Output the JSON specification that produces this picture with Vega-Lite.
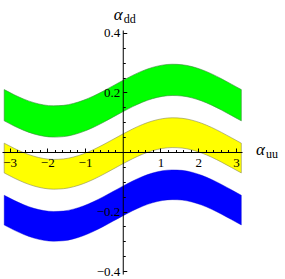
{
  "$schema": "https://vega.github.io/schema/vega-lite/v6.json",
  "width": 240,
  "height": 244,
  "autosize": {"type": "none"},
  "padding": {"left": 2, "top": 30, "right": 43, "bottom": 5},
  "background": "white",
  "config": {"view": {"stroke": null}},
  "datasets": {
    "bands": [
      {"x": -3.1416, "g_hi": 0.2097, "g_lo": 0.1047, "y_hi": 0.0297, "y_lo": -0.0703, "b_hi": -0.1453, "b_lo": -0.2453},
      {"x": -2.8798, "g_hi": 0.1925, "g_lo": 0.0875, "y_hi": 0.0125, "y_lo": -0.0875, "b_hi": -0.1625, "b_lo": -0.2625},
      {"x": -2.618, "g_hi": 0.1775, "g_lo": 0.0725, "y_hi": -0.0025, "y_lo": -0.1025, "b_hi": -0.1775, "b_lo": -0.2775},
      {"x": -2.3562, "g_hi": 0.1658, "g_lo": 0.0608, "y_hi": -0.0142, "y_lo": -0.1142, "b_hi": -0.1892, "b_lo": -0.2892},
      {"x": -2.0944, "g_hi": 0.1581, "g_lo": 0.0531, "y_hi": -0.0219, "y_lo": -0.1219, "b_hi": -0.1969, "b_lo": -0.2969},
      {"x": -1.8326, "g_hi": 0.1551, "g_lo": 0.0501, "y_hi": -0.0249, "y_lo": -0.1249, "b_hi": -0.1999, "b_lo": -0.2999},
      {"x": -1.5708, "g_hi": 0.1567, "g_lo": 0.0517, "y_hi": -0.0233, "y_lo": -0.1233, "b_hi": -0.1983, "b_lo": -0.2983},
      {"x": -1.309, "g_hi": 0.163, "g_lo": 0.058, "y_hi": -0.017, "y_lo": -0.117, "b_hi": -0.192, "b_lo": -0.292},
      {"x": -1.0472, "g_hi": 0.1735, "g_lo": 0.0685, "y_hi": -0.0065, "y_lo": -0.1065, "b_hi": -0.1815, "b_lo": -0.2815},
      {"x": -0.7854, "g_hi": 0.1875, "g_lo": 0.0825, "y_hi": 0.0075, "y_lo": -0.0925, "b_hi": -0.1675, "b_lo": -0.2675},
      {"x": -0.5236, "g_hi": 0.2041, "g_lo": 0.0991, "y_hi": 0.0241, "y_lo": -0.0759, "b_hi": -0.1509, "b_lo": -0.2509},
      {"x": -0.2618, "g_hi": 0.2221, "g_lo": 0.1171, "y_hi": 0.0421, "y_lo": -0.0579, "b_hi": -0.1329, "b_lo": -0.2329},
      {"x": 0, "g_hi": 0.2403, "g_lo": 0.1353, "y_hi": 0.0603, "y_lo": -0.0397, "b_hi": -0.1147, "b_lo": -0.2147},
      {"x": 0.2618, "g_hi": 0.2575, "g_lo": 0.1525, "y_hi": 0.0775, "y_lo": -0.0225, "b_hi": -0.0975, "b_lo": -0.1975},
      {"x": 0.5236, "g_hi": 0.2725, "g_lo": 0.1675, "y_hi": 0.0925, "y_lo": -0.0075, "b_hi": -0.0825, "b_lo": -0.1825},
      {"x": 0.7854, "g_hi": 0.2842, "g_lo": 0.1792, "y_hi": 0.1042, "y_lo": 0.0042, "b_hi": -0.0708, "b_lo": -0.1708},
      {"x": 1.0472, "g_hi": 0.2919, "g_lo": 0.1869, "y_hi": 0.1119, "y_lo": 0.0119, "b_hi": -0.0631, "b_lo": -0.1631},
      {"x": 1.309, "g_hi": 0.2949, "g_lo": 0.1899, "y_hi": 0.1149, "y_lo": 0.0149, "b_hi": -0.0601, "b_lo": -0.1601},
      {"x": 1.5708, "g_hi": 0.2933, "g_lo": 0.1883, "y_hi": 0.1133, "y_lo": 0.0133, "b_hi": -0.0617, "b_lo": -0.1617},
      {"x": 1.8326, "g_hi": 0.287, "g_lo": 0.182, "y_hi": 0.107, "y_lo": 0.007, "b_hi": -0.068, "b_lo": -0.168},
      {"x": 2.0944, "g_hi": 0.2765, "g_lo": 0.1715, "y_hi": 0.0965, "y_lo": -0.0035, "b_hi": -0.0785, "b_lo": -0.1785},
      {"x": 2.3562, "g_hi": 0.2625, "g_lo": 0.1575, "y_hi": 0.0825, "y_lo": -0.0175, "b_hi": -0.0925, "b_lo": -0.1925},
      {"x": 2.618, "g_hi": 0.2459, "g_lo": 0.1409, "y_hi": 0.0659, "y_lo": -0.0341, "b_hi": -0.1091, "b_lo": -0.2091},
      {"x": 2.8798, "g_hi": 0.2279, "g_lo": 0.1229, "y_hi": 0.0479, "y_lo": -0.0521, "b_hi": -0.1271, "b_lo": -0.2271},
      {"x": 3.1416, "g_hi": 0.2097, "g_lo": 0.1047, "y_hi": 0.0297, "y_lo": -0.0703, "b_hi": -0.1453, "b_lo": -0.2453}
    ],
    "alpha": [
      {"x": 0, "y": 0.46, "t": "α"},
      {"x": 3.77, "y": 0.007, "t": "α"}
    ],
    "sub": [
      {"x": 0, "y": 0.46, "t": "dd"},
      {"x": 3.77, "y": 0.007, "t": "uu"}
    ]
  },
  "resolve": {"axis": {"x": "independent", "y": "independent"}},
  "layer": [
    {
      "data": {"name": "bands"},
      "mark": {"type": "area", "fill": "#00FF00", "stroke": "#3a8a3a", "strokeWidth": 0.6, "interpolate": "monotone"},
      "encoding": {
        "x": {"field": "x", "type": "quantitative", "scale": {"domain": [-3.2, 3.16], "nice": false, "zero": false},
          "axis": {"orient": "bottom", "offset": -122, "values": [-3, -2, -1, 1, 2, 3], "format": "d", "title": null, "grid": false, "zindex": 1,
            "domainColor": "black", "domainWidth": 1, "tickColor": "black", "tickWidth": 1, "tickSize": -4,
            "labelFont": "Liberation Serif", "labelFontSize": 13, "labelColor": "black", "labelPadding": 8, "labelFlush": false, "labelOverlap": false}},
        "y": {"field": "g_hi", "type": "quantitative", "scale": {"domain": [-0.41, 0.41], "nice": false, "zero": false},
          "axis": {"orient": "left", "offset": -120.75, "values": [-0.4, -0.2, 0.2, 0.4], "format": ".1f", "title": null, "grid": false, "zindex": 1,
            "domainColor": "black", "domainWidth": 1, "tickColor": "black", "tickWidth": 1, "tickSize": -4,
            "labelFont": "Liberation Serif", "labelFontSize": 13, "labelColor": "black", "labelPadding": 7, "labelFlush": false, "labelOverlap": false}},
        "y2": {"field": "g_lo"}
      }
    },
    {
      "data": {"name": "bands"},
      "mark": {"type": "area", "fill": "#FFFF00", "stroke": "#8a8a5a", "strokeWidth": 0.6, "interpolate": "monotone"},
      "encoding": {
        "x": {"field": "x", "type": "quantitative",
          "axis": {"orient": "bottom", "offset": -122, "values": [-2.8, -2.6, -2.4, -2.2, -1.8, -1.6, -1.4, -1.2, -0.8, -0.6, -0.4, -0.2, 0.2, 0.4, 0.6, 0.8, 1.2, 1.4, 1.6, 1.8, 2.2, 2.4, 2.6, 2.8],
            "labels": false, "domain": false, "title": null, "grid": false, "zindex": 1, "tickColor": "black", "tickWidth": 1, "tickSize": -2.5}},
        "y": {"field": "y_hi", "type": "quantitative",
          "axis": {"orient": "left", "offset": -120.75, "values": [-0.35, -0.3, -0.25, -0.15, -0.1, -0.05, 0.05, 0.1, 0.15, 0.25, 0.3, 0.35],
            "labels": false, "domain": false, "title": null, "grid": false, "zindex": 1, "tickColor": "black", "tickWidth": 1, "tickSize": -2.5}},
        "y2": {"field": "y_lo"}
      }
    },
    {
      "data": {"name": "bands"},
      "mark": {"type": "area", "fill": "#0000FF", "stroke": "#0000CC", "strokeWidth": 0.4, "interpolate": "monotone"},
      "encoding": {
        "x": {"field": "x", "type": "quantitative", "axis": null},
        "y": {"field": "b_hi", "type": "quantitative", "axis": null},
        "y2": {"field": "b_lo"}
      }
    },
    {
      "data": {"name": "alpha"},
      "mark": {"type": "text", "font": "Liberation Serif", "fontStyle": "italic", "fontSize": 17, "align": "right", "baseline": "middle", "color": "black"},
      "encoding": {
        "x": {"field": "x", "type": "quantitative", "axis": null},
        "y": {"field": "y", "type": "quantitative", "axis": null},
        "text": {"field": "t"}
      }
    },
    {
      "data": {"name": "sub"},
      "mark": {"type": "text", "font": "Liberation Serif", "fontSize": 12, "align": "left", "baseline": "middle", "dx": 1, "dy": 4, "color": "black"},
      "encoding": {
        "x": {"field": "x", "type": "quantitative", "axis": null},
        "y": {"field": "y", "type": "quantitative", "axis": null},
        "text": {"field": "t"}
      }
    }
  ]
}
